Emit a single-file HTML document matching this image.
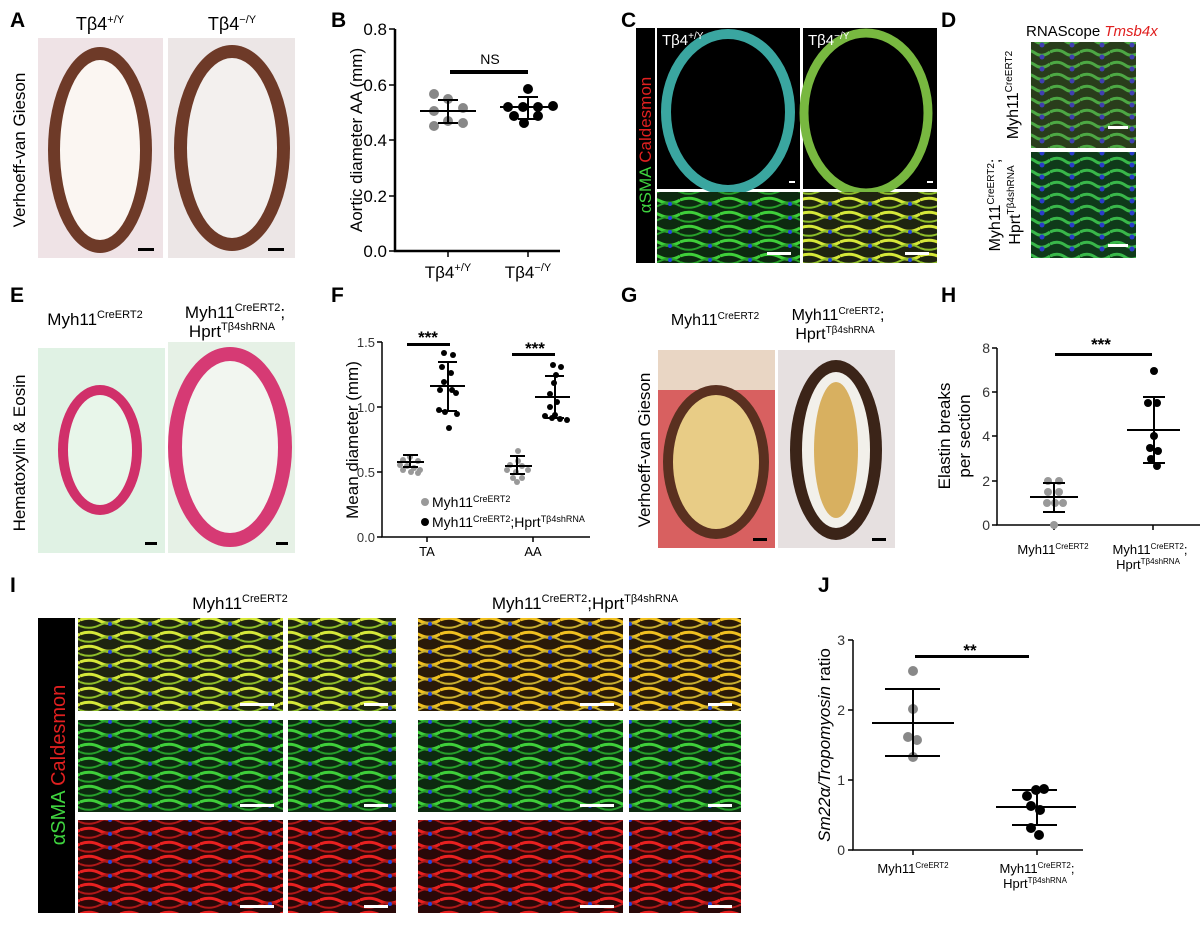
<!DOCTYPE html>
<html><head><meta charset="utf-8"><style>
body{margin:0;background:#fff}
svg{display:block;font-family:"Liberation Sans",Arial,sans-serif}
</style></head><body>
<svg width="1200" height="926" viewBox="0 0 1200 926" xmlns="http://www.w3.org/2000/svg">
<defs>
<pattern id="fibG" width="40" height="14" patternUnits="userSpaceOnUse"><rect width="40" height="14" fill="#0d2a10"/><path d="M0 4 Q10 0 20 5 T40 4" stroke="#3fcf3a" stroke-width="3" fill="none"/><path d="M0 10 Q10 14 20 9 T40 10" stroke="#27a02a" stroke-width="2" fill="none"/><circle cx="30" cy="8" r="2" fill="#2244dd"/></pattern>
<pattern id="fibY" width="40" height="14" patternUnits="userSpaceOnUse"><rect width="40" height="14" fill="#1f2410"/><path d="M0 4 Q10 0 20 5 T40 4" stroke="#d6e83a" stroke-width="3" fill="none"/><path d="M0 10 Q10 14 20 9 T40 10" stroke="#8fbf2a" stroke-width="2" fill="none"/><circle cx="30" cy="8" r="2" fill="#2244dd"/></pattern>
<pattern id="fibO" width="40" height="14" patternUnits="userSpaceOnUse"><rect width="40" height="14" fill="#2a1a08"/><path d="M0 4 Q10 0 20 5 T40 4" stroke="#f0c020" stroke-width="3" fill="none"/><path d="M0 10 Q10 14 20 9 T40 10" stroke="#c8b030" stroke-width="2" fill="none"/><circle cx="30" cy="8" r="2" fill="#2244dd"/></pattern>
<pattern id="fibR" width="40" height="14" patternUnits="userSpaceOnUse"><rect width="40" height="14" fill="#2a0808"/><path d="M0 4 Q10 0 20 5 T40 4" stroke="#e82020" stroke-width="3" fill="none"/><path d="M0 10 Q10 14 20 9 T40 10" stroke="#b01818" stroke-width="2" fill="none"/><circle cx="30" cy="8" r="2" fill="#2244dd"/></pattern>
<pattern id="fibD" width="30" height="12" patternUnits="userSpaceOnUse"><rect width="30" height="12" fill="#0f3a1a"/><path d="M0 4 Q8 0 15 5 T30 4" stroke="#39b84a" stroke-width="3" fill="none"/><circle cx="22" cy="9" r="2.5" fill="#2a3ccc"/></pattern>
</defs>
<g font-weight="bold" font-size="21" fill="#000">
<text x="10" y="27">A</text><text x="331" y="27">B</text><text x="621" y="27">C</text><text x="941" y="27">D</text>
<text x="10" y="302">E</text><text x="331" y="302">F</text><text x="621" y="302">G</text><text x="941" y="302">H</text>
<text x="10" y="592">I</text><text x="818" y="592">J</text></g>

<!-- A -->
<text x="100" y="30" font-size="18" text-anchor="middle">Tβ4<tspan font-size="11" dy="-7">+/Y</tspan></text>
<text x="232" y="30" font-size="18" text-anchor="middle">Tβ4<tspan font-size="11" dy="-7">−/Y</tspan></text>
<text transform="translate(25,150) rotate(-90)" font-size="17" text-anchor="middle">Verhoeff-van Gieson</text>
<rect x="38" y="38" width="125" height="220" fill="#efe3e6"/>
<ellipse cx="100" cy="150" rx="52" ry="103" fill="#6e3a28"/><ellipse cx="100" cy="150" rx="40" ry="90" fill="#fbf6f2"/>
<rect x="168" y="38" width="127" height="220" fill="#ece6e6"/>
<ellipse cx="232" cy="148" rx="58" ry="103" fill="#6e3a28"/><ellipse cx="232" cy="148" rx="45" ry="90" fill="#f3f0ee"/>
<rect x="138" y="248" width="16" height="3" fill="#000"/><rect x="268" y="248" width="16" height="3" fill="#000"/>

<!-- B -->
<g stroke="#000" stroke-width="2.5" fill="none"><path d="M395 29V251H560"/></g>
<g stroke="#000" stroke-width="1.5"><path d="M389 29h6M389 85h6M389 140h6M389 196h6M389 251h6M448 251v6M528 251v6"/></g>
<g font-size="17" text-anchor="end"><text x="387" y="35">0.8</text><text x="387" y="91">0.6</text><text x="387" y="146">0.4</text><text x="387" y="202">0.2</text><text x="387" y="257">0.0</text></g>
<text transform="translate(362,140) rotate(-90)" font-size="17" text-anchor="middle">Aortic diameter AA (mm)</text>
<text x="448" y="278" font-size="17" text-anchor="middle">Tβ4<tspan font-size="11" dy="-7">+/Y</tspan></text>
<text x="528" y="278" font-size="17" text-anchor="middle">Tβ4<tspan font-size="11" dy="-7">−/Y</tspan></text>
<text x="490" y="64" font-size="14" text-anchor="middle">NS</text>
<rect x="450" y="70" width="78" height="4"/>
<g fill="#888"><circle cx="434" cy="94" r="5"/><circle cx="448" cy="99" r="5"/><circle cx="434" cy="111" r="5"/><circle cx="463" cy="108" r="5"/><circle cx="448" cy="121" r="5"/><circle cx="434" cy="126" r="5"/><circle cx="463" cy="123" r="5"/></g>
<g stroke="#000" stroke-width="2"><path d="M420 111h56M438 100h20M438 123h20M448 100v23"/></g>
<g fill="#000"><circle cx="528" cy="89" r="5"/><circle cx="508" cy="107" r="5"/><circle cx="523" cy="107" r="5"/><circle cx="553" cy="106" r="5"/><circle cx="538" cy="107" r="5"/><circle cx="514" cy="116" r="5"/><circle cx="538" cy="116" r="5"/><circle cx="524" cy="123" r="5"/></g>
<g stroke="#000" stroke-width="2"><path d="M500 107h56M518 97h20M518 119h20M528 97v22"/></g>

<!-- C -->
<rect x="636" y="28" width="19" height="235" fill="#000"/>
<text transform="translate(651,145) rotate(-90)" font-size="17" text-anchor="middle"><tspan fill="#3fd43f">αSMA </tspan><tspan fill="#e02020">Caldesmon</tspan></text>
<rect x="657" y="28" width="143" height="161" fill="#000"/>
<ellipse cx="728" cy="112" rx="62" ry="78" fill="none" stroke="#3aa6a0" stroke-width="10"/>
<rect x="803" y="28" width="134" height="161" fill="#000"/>
<ellipse cx="866" cy="113" rx="62" ry="80" fill="none" stroke="#78b840" stroke-width="9"/>
<text x="662" y="45" font-size="15" fill="#fff">Tβ4<tspan font-size="10" dy="-6">+/Y</tspan></text>
<text x="808" y="45" font-size="15" fill="#fff">Tβ4<tspan font-size="10" dy="-6">−/Y</tspan></text>
<rect x="657" y="192" width="143" height="71" fill="url(#fibG)"/>
<rect x="803" y="192" width="134" height="71" fill="url(#fibY)"/>
<g fill="#fff"><rect x="789" y="181" width="6" height="2"/><rect x="927" y="181" width="6" height="2"/><rect x="767" y="252" width="24" height="3"/><rect x="905" y="252" width="24" height="3"/></g>

<!-- D -->
<text x="1026" y="36" font-size="15">RNAScope <tspan fill="#e02020" font-style="italic">Tmsb4x</tspan></text>
<rect x="1031" y="42" width="105" height="106" fill="url(#fibD)"/>
<rect x="1031" y="152" width="105" height="106" fill="url(#fibD)"/>
<rect x="1031" y="42" width="105" height="106" fill="#c05020" opacity="0.15"/>
<text transform="translate(1018,95) rotate(-90)" font-size="16" text-anchor="middle">Myh11<tspan font-size="10" dy="-6">CreERT2</tspan></text>
<text transform="translate(1000,205) rotate(-90)" font-size="16" text-anchor="middle">Myh11<tspan font-size="10" dy="-6">CreERT2</tspan><tspan dy="6">;</tspan></text>
<text transform="translate(1020,205) rotate(-90)" font-size="16" text-anchor="middle">Hprt<tspan font-size="10" dy="-6">Tβ4shRNA</tspan></text>
<g fill="#fff"><rect x="1108" y="126" width="20" height="3"/><rect x="1108" y="244" width="20" height="3"/></g>

<!-- E -->
<text x="95" y="325" font-size="17" text-anchor="middle">Myh11<tspan font-size="11" dy="-7">CreERT2</tspan></text>
<text x="235" y="318" font-size="17" text-anchor="middle">Myh11<tspan font-size="11" dy="-7">CreERT2</tspan><tspan dy="7">;</tspan></text>
<text x="232" y="337" font-size="17" text-anchor="middle">Hprt<tspan font-size="11" dy="-7">Tβ4shRNA</tspan></text>
<text transform="translate(25,453) rotate(-90)" font-size="17" text-anchor="middle">Hematoxylin &amp; Eosin</text>
<rect x="38" y="348" width="127" height="205" fill="#e0f2e4"/>
<ellipse cx="100" cy="450" rx="42" ry="65" fill="#d0306a"/><ellipse cx="100" cy="450" rx="32" ry="55" fill="#e8f6ea"/>
<rect x="168" y="342" width="127" height="211" fill="#e6f1e6"/>
<ellipse cx="230" cy="447" rx="62" ry="100" fill="#d63a74"/><ellipse cx="230" cy="447" rx="48" ry="86" fill="#f2f6f0"/>
<g fill="#000"><rect x="145" y="542" width="12" height="3"/><rect x="276" y="542" width="12" height="3"/></g>

<!-- F -->
<g stroke="#000" stroke-width="1.5" fill="none"><path d="M382 342V537H590"/><path d="M377 342h5M377 407h5M377 472h5M377 537h5M427 537v5M533 537v5"/></g>
<g font-size="13" text-anchor="end" fill="#333"><text x="375" y="347">1.5</text><text x="375" y="412">1.0</text><text x="375" y="477">0.5</text><text x="375" y="542">0.0</text></g>
<text transform="translate(358,440) rotate(-90)" font-size="17" text-anchor="middle">Mean diameter (mm)</text>
<text x="427" y="556" font-size="13" text-anchor="middle">TA</text><text x="533" y="556" font-size="13" text-anchor="middle">AA</text>
<text x="428" y="343" font-size="17" font-weight="bold" text-anchor="middle">***</text>
<text x="535" y="354" font-size="17" font-weight="bold" text-anchor="middle">***</text>
<rect x="407" y="343" width="43" height="3"/><rect x="512" y="353" width="43" height="3"/>
<g fill="#999"><circle cx="403" cy="460" r="3"/><circle cx="410" cy="457" r="3"/><circle cx="418" cy="461" r="3"/><circle cx="400" cy="465" r="3"/><circle cx="407" cy="466" r="3"/><circle cx="414" cy="468" r="3"/><circle cx="420" cy="470" r="3"/><circle cx="403" cy="470" r="3"/><circle cx="411" cy="472" r="3"/><circle cx="418" cy="473" r="3"/>
<circle cx="518" cy="451" r="3"/><circle cx="518" cy="461" r="3"/><circle cx="510" cy="465" r="3"/><circle cx="522" cy="466" r="3"/><circle cx="528" cy="470" r="3"/><circle cx="507" cy="470" r="3"/><circle cx="516" cy="472" r="3"/><circle cx="513" cy="478" r="3"/><circle cx="522" cy="478" r="3"/><circle cx="517" cy="482" r="3"/></g>
<g stroke="#000" stroke-width="2"><path d="M397 462h27M403 455h15M403 467h15M410 455v12M505 466h27M510 456h15M510 474h15M517 456v18"/></g>
<g fill="#000"><circle cx="444" cy="353" r="3"/><circle cx="453" cy="355" r="3"/><circle cx="442" cy="367" r="3"/><circle cx="451" cy="373" r="3"/><circle cx="444" cy="382" r="3"/><circle cx="452" cy="390" r="3"/><circle cx="440" cy="390" r="3"/><circle cx="456" cy="393" r="3"/><circle cx="439" cy="410" r="3"/><circle cx="445" cy="412" r="3"/><circle cx="457" cy="414" r="3"/><circle cx="449" cy="428" r="3"/>
<circle cx="553" cy="365" r="3"/><circle cx="561" cy="367" r="3"/><circle cx="556" cy="375" r="3"/><circle cx="554" cy="383" r="3"/><circle cx="550" cy="394" r="3"/><circle cx="557" cy="402" r="3"/><circle cx="550" cy="407" r="3"/><circle cx="555" cy="415" r="3"/><circle cx="545" cy="416" r="3"/><circle cx="552" cy="418" r="3"/><circle cx="560" cy="419" r="3"/><circle cx="567" cy="420" r="3"/></g>
<g stroke="#000" stroke-width="2"><path d="M430 386h35M438 362h19M438 411h19M448 362v49M535 397h35M545 376h19M545 418h19M555 376v42"/></g>
<circle cx="425" cy="502" r="4" fill="#999"/><circle cx="425" cy="522" r="4" fill="#000"/>
<text x="432" y="507" font-size="14">Myh11<tspan font-size="9" dy="-5">CreERT2</tspan></text>
<text x="432" y="527" font-size="14">Myh11<tspan font-size="9" dy="-5">CreERT2</tspan><tspan dy="5">;Hprt</tspan><tspan font-size="9" dy="-5">Tβ4shRNA</tspan></text>

<!-- G -->
<text x="715" y="325" font-size="16" text-anchor="middle">Myh11<tspan font-size="10" dy="-6">CreERT2</tspan></text>
<text x="838" y="320" font-size="16" text-anchor="middle">Myh11<tspan font-size="10" dy="-6">CreERT2</tspan><tspan dy="6">;</tspan></text>
<text x="835" y="339" font-size="16" text-anchor="middle">Hprt<tspan font-size="10" dy="-6">Tβ4shRNA</tspan></text>
<text transform="translate(650,450) rotate(-90)" font-size="17" text-anchor="middle">Verhoeff-van Gieson</text>
<rect x="658" y="350" width="117" height="198" fill="#d86060"/>
<rect x="658" y="350" width="117" height="40" fill="#e9d6c4"/>
<ellipse cx="716" cy="462" rx="53" ry="77" fill="#5a3020"/><ellipse cx="716" cy="462" rx="43" ry="67" fill="#e8cc86"/>
<rect x="778" y="350" width="117" height="198" fill="#e6e0e0"/>
<ellipse cx="836" cy="450" rx="46" ry="90" fill="#3b2418"/><ellipse cx="836" cy="450" rx="34" ry="78" fill="#f2f0ea"/><ellipse cx="836" cy="450" rx="22" ry="68" fill="#d8b060"/>
<g fill="#000"><rect x="753" y="538" width="14" height="3"/><rect x="872" y="538" width="14" height="3"/></g>

<!-- H -->
<g stroke="#000" stroke-width="1.5" fill="none"><path d="M997 348V525H1200"/><path d="M992 348h5M992 392h5M992 436h5M992 481h5M992 525h5M1054 525v5M1153 525v5"/></g>
<g font-size="14" text-anchor="end" fill="#333"><text x="990" y="353">8</text><text x="990" y="397">6</text><text x="990" y="441">4</text><text x="990" y="486">2</text><text x="990" y="530">0</text></g>
<text transform="translate(950,436) rotate(-90)" font-size="17" text-anchor="middle">Elastin breaks</text>
<text transform="translate(970,436) rotate(-90)" font-size="17" text-anchor="middle">per section</text>
<text x="1053" y="554" font-size="13" text-anchor="middle">Myh11<tspan font-size="8" dy="-5">CreERT2</tspan></text>
<text x="1150" y="554" font-size="13" text-anchor="middle">Myh11<tspan font-size="8" dy="-5">CreERT2</tspan><tspan dy="5">;</tspan></text>
<text x="1148" y="569" font-size="13" text-anchor="middle">Hprt<tspan font-size="8" dy="-5">Tβ4shRNA</tspan></text>
<text x="1101" y="350" font-size="17" font-weight="bold" text-anchor="middle">***</text>
<rect x="1055" y="353" width="97" height="3"/>
<g fill="#999"><circle cx="1048" cy="481" r="4"/><circle cx="1059" cy="481" r="4"/><circle cx="1048" cy="492" r="4"/><circle cx="1059" cy="492" r="4"/><circle cx="1047" cy="503" r="4"/><circle cx="1055" cy="503" r="4"/><circle cx="1063" cy="503" r="4"/><circle cx="1054" cy="525" r="4"/></g>
<g stroke="#000" stroke-width="2"><path d="M1030 497h48M1043 483h22M1043 512h22M1054 483v29"/></g>
<g fill="#000"><circle cx="1154" cy="371" r="4"/><circle cx="1148" cy="403" r="4"/><circle cx="1157" cy="403" r="4"/><circle cx="1154" cy="436" r="4"/><circle cx="1150" cy="448" r="4"/><circle cx="1158" cy="451" r="4"/><circle cx="1151" cy="459" r="4"/><circle cx="1157" cy="466" r="4"/></g>
<g stroke="#000" stroke-width="2"><path d="M1127 430h53M1143 397h22M1143 463h22M1154 397v66"/></g>

<!-- I -->
<text x="240" y="609" font-size="17" text-anchor="middle">Myh11<tspan font-size="11" dy="-7">CreERT2</tspan></text>
<text x="585" y="609" font-size="17" text-anchor="middle">Myh11<tspan font-size="11" dy="-7">CreERT2</tspan><tspan dy="7">;Hprt</tspan><tspan font-size="11" dy="-7">Tβ4shRNA</tspan></text>
<rect x="38" y="618" width="37" height="295" fill="#000"/>
<text transform="translate(65,765) rotate(-90)" font-size="20" text-anchor="middle"><tspan fill="#3fd43f">αSMA </tspan><tspan fill="#e02020">Caldesmon</tspan></text>
<rect x="78" y="618" width="205" height="93" fill="url(#fibY)"/><rect x="288" y="618" width="108" height="93" fill="url(#fibY)"/>
<rect x="418" y="618" width="205" height="93" fill="url(#fibO)"/><rect x="629" y="618" width="112" height="93" fill="url(#fibO)"/>
<rect x="78" y="720" width="205" height="92" fill="url(#fibG)"/><rect x="288" y="720" width="108" height="92" fill="url(#fibG)"/>
<rect x="418" y="720" width="205" height="92" fill="url(#fibG)"/><rect x="629" y="720" width="112" height="92" fill="url(#fibG)"/>
<rect x="78" y="820" width="205" height="93" fill="url(#fibR)"/><rect x="288" y="820" width="108" height="93" fill="url(#fibR)"/>
<rect x="418" y="820" width="205" height="93" fill="url(#fibR)"/><rect x="629" y="820" width="112" height="93" fill="url(#fibR)"/>
<g fill="#fff"><rect x="240" y="703" width="34" height="3"/><rect x="364" y="703" width="24" height="3"/><rect x="580" y="703" width="34" height="3"/><rect x="708" y="703" width="24" height="3"/>
<rect x="240" y="804" width="34" height="3"/><rect x="364" y="804" width="24" height="3"/><rect x="580" y="804" width="34" height="3"/><rect x="708" y="804" width="24" height="3"/>
<rect x="240" y="905" width="34" height="3"/><rect x="364" y="905" width="24" height="3"/><rect x="580" y="905" width="34" height="3"/><rect x="708" y="905" width="24" height="3"/></g>

<!-- J -->
<g stroke="#000" stroke-width="1.5" fill="none"><path d="M853 640V850H1083"/><path d="M848 640h5M848 710h5M848 780h5M848 850h5M913 850v5M1037 850v5"/></g>
<g font-size="14" text-anchor="end" fill="#333"><text x="845" y="645">3</text><text x="845" y="715">2</text><text x="845" y="785">1</text><text x="845" y="855">0</text></g>
<text transform="translate(830,745) rotate(-90)" font-size="17" text-anchor="middle" font-style="italic">Sm22α/Tropomyosin<tspan font-style="normal"> ratio</tspan></text>
<text x="913" y="873" font-size="13" text-anchor="middle">Myh11<tspan font-size="8" dy="-5">CreERT2</tspan></text>
<text x="1037" y="873" font-size="13" text-anchor="middle">Myh11<tspan font-size="8" dy="-5">CreERT2</tspan><tspan dy="5">;</tspan></text>
<text x="1035" y="888" font-size="13" text-anchor="middle">Hprt<tspan font-size="8" dy="-5">Tβ4shRNA</tspan></text>
<text x="970" y="656" font-size="17" font-weight="bold" text-anchor="middle">**</text>
<rect x="915" y="655" width="114" height="3"/>
<g fill="#888"><circle cx="913" cy="671" r="5"/><circle cx="913" cy="709" r="5"/><circle cx="908" cy="737" r="5"/><circle cx="917" cy="740" r="5"/><circle cx="913" cy="757" r="5"/></g>
<g stroke="#000" stroke-width="2"><path d="M872 723h82M885 689h55M885 756h55M913 689v67"/></g>
<g fill="#000"><circle cx="1027" cy="796" r="5"/><circle cx="1036" cy="790" r="5"/><circle cx="1044" cy="789" r="5"/><circle cx="1031" cy="806" r="5"/><circle cx="1040" cy="810" r="5"/><circle cx="1031" cy="828" r="5"/><circle cx="1039" cy="835" r="5"/></g>
<g stroke="#000" stroke-width="2"><path d="M996 807h80M1012 790h45M1012 825h45M1037 790v35"/></g>
</svg>
</body></html>
